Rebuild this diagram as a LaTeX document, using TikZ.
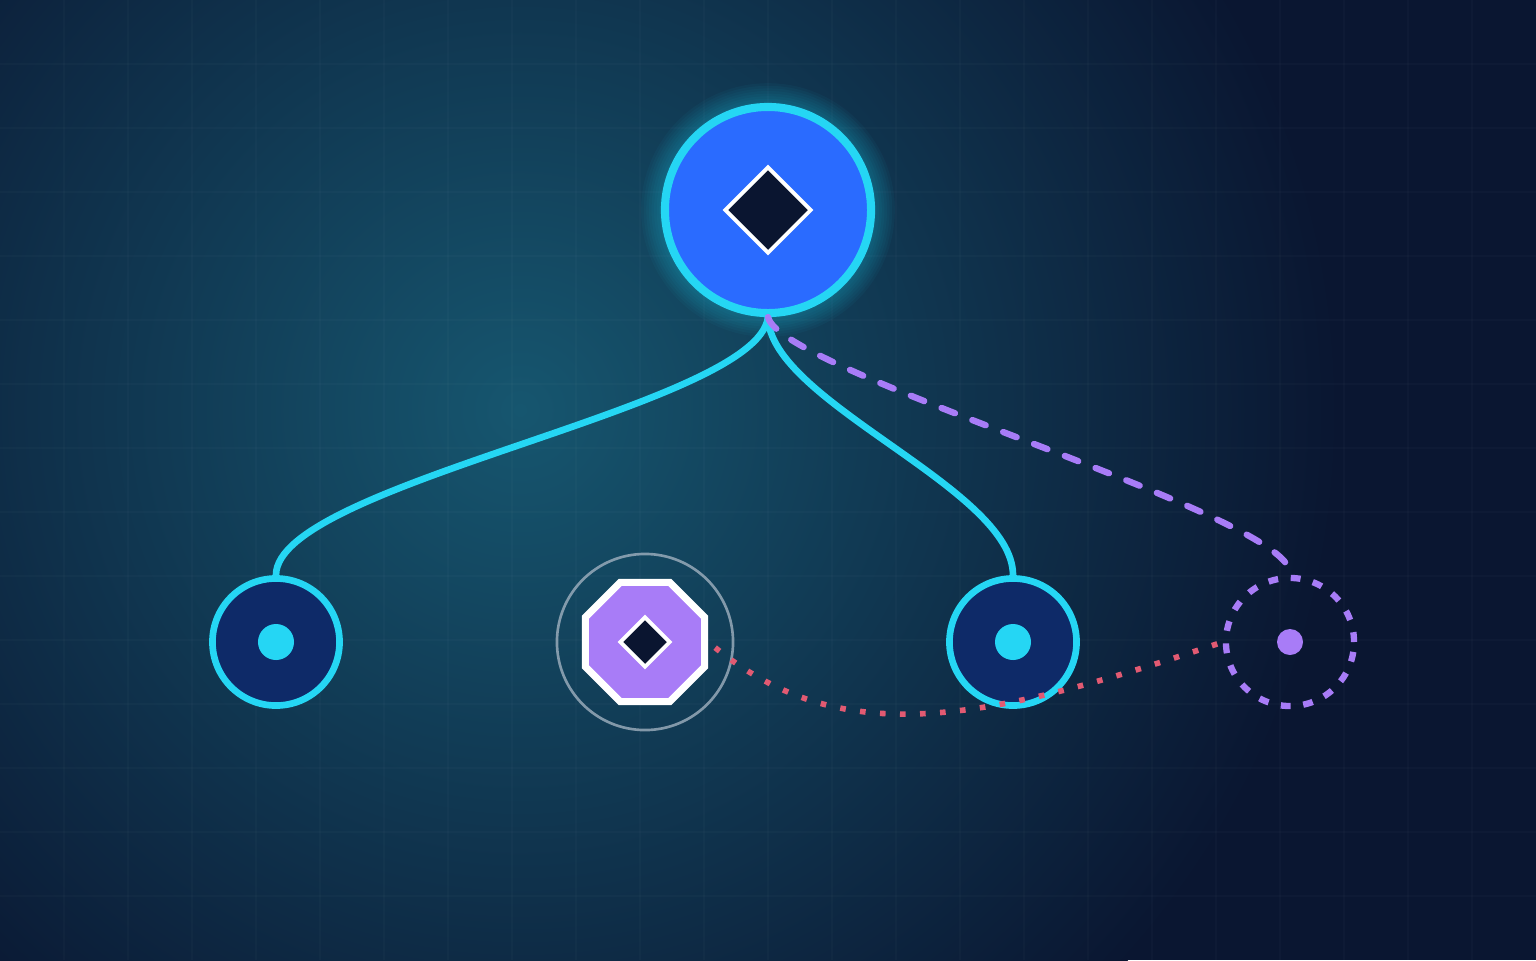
\documentclass[tikz,border=0pt]{standalone}
\usepackage{tikz}
\usetikzlibrary{arrows, arrows.meta}
\usetikzlibrary{positioning, shapes.geometric}

\definecolor{bgnavy}{HTML}{0A1631}
\definecolor{bgglow}{HTML}{16566F}
\definecolor{cyanline}{HTML}{25D6F4}
\definecolor{rootblue}{HTML}{2A6BFF}
\definecolor{leafblue}{HTML}{0E2A68}
\definecolor{inkdark}{HTML}{0A1530}
\definecolor{lilac}{HTML}{A87CF7}
\definecolor{rosedot}{HTML}{E25A72}
\definecolor{ringgray}{HTML}{A9B8C6}

\begin{document}
\begin{tikzpicture}[x=0.01cm, y=-0.01cm]
\tikzstyle{every node}+=[inner sep=0pt]
\tikzstyle{gridline}=[draw=white, opacity=0.018, line width=0.4pt]
\tikzstyle{rootnode}=[circle, draw=cyanline, fill=rootblue, line width=2.3pt, minimum size=2.06cm]
\tikzstyle{leafnode}=[circle, draw=cyanline, fill=leafblue, line width=1.9pt, minimum size=1.27cm]
\tikzstyle{leafdot}=[circle, fill=cyanline, minimum size=0.36cm]
\tikzstyle{gem}=[diamond, aspect=1, fill=inkdark, draw=white, line width=1.1pt]
\tikzstyle{octnode}=[regular polygon, regular polygon sides=8, fill=lilac, draw=white, line width=2pt, minimum size=1.29cm]
\tikzstyle{halo}=[circle, draw=ringgray, opacity=0.75, line width=0.75pt, minimum size=1.76cm]
\tikzstyle{ghostnode}=[circle, draw=lilac, line width=1.8pt, dash pattern=on 2.8pt off 3.6pt, minimum size=1.28cm]
\tikzstyle{wire}=[draw=cyanline, line width=1.9pt, line cap=round]
\tikzstyle{ghostlink}=[draw=lilac, line width=1.8pt, line cap=round, dash pattern=on 4.1pt off 5.3pt]
\tikzstyle{hint}=[draw=rosedot, line width=1.6pt, dash pattern=on 1.6pt off 4.1pt]

\useasboundingbox (0,0) rectangle (1536,960);

% backdrop
\begin{scope}
\clip (0,0) rectangle (1536,960);
\fill[bgnavy] (0,0) rectangle (1536,960);
\shade[inner color=bgglow, outer color=bgnavy] (520,410) circle (820);
\foreach \gx in {64,128,...,1472}
  \draw[gridline] (\gx,0) -- (\gx,960);
\foreach \gy in {64,128,...,896}
  \draw[gridline] (0,\gy) -- (1536,\gy);
\end{scope}

% top node with glow
\coordinate (top) at (768,210);
\foreach \g in {1,...,8}
  \fill[cyanline, opacity=0.04] (top) circle (106+2.6*\g);
\node[rootnode] (root) at (top) {};
\node[gem, minimum size=0.87cm] (rootmark) at (root) {};

% bottom row
\node[leafnode] (left) at (276,642) {};
\node[leafdot] (leftdot) at (left) {};

\node[halo] (midring) at (645,642) {};
\node[octnode] (mid) at (midring) {};
\node[gem, minimum size=0.51cm] (midmark) at (mid) {};

\node[leafnode] (right) at (1013,642) {};
\node[leafdot] (rightdot) at (right) {};

\node[ghostnode] (ghost) at (1290,642) {};
\node[circle, fill=lilac, minimum size=0.26cm] (ghostdot) at (ghost) {};

% links
\draw[wire] (root.south) .. controls +(-10,90) and +(0,-92) .. (left.north);
\draw[wire] (root.south) .. controls +(2,85) and +(0,-87) .. (right.north);
\draw[ghostlink] (root.south) .. controls +(12,55) and +(10,-57) .. (ghost.north);
\draw[hint, shorten <=0.09cm, shorten >=0.05cm] (mid.east) .. controls +(130,105) and +(-251,84) .. (ghost.west);
\end{tikzpicture}
\end{document}
